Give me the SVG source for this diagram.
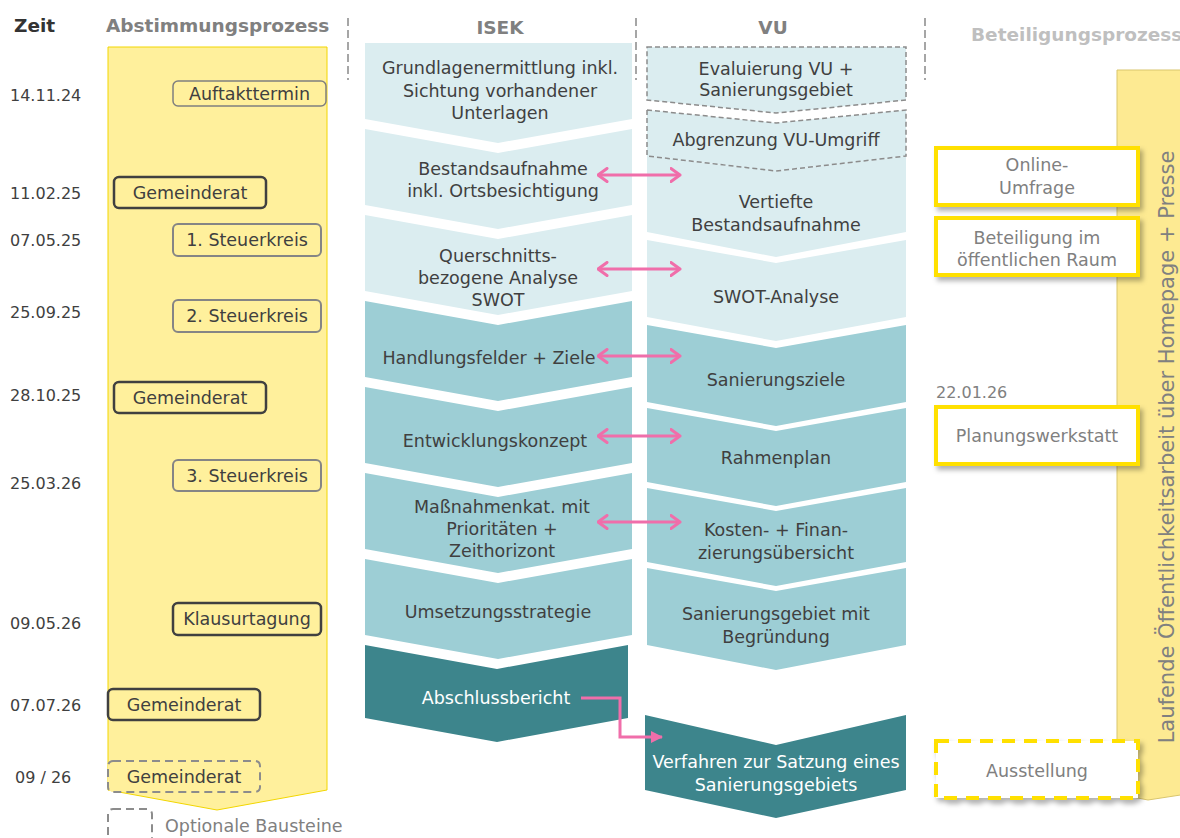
<svg xmlns="http://www.w3.org/2000/svg" width="1180" height="838" viewBox="0 0 1180 838">
  <defs>
    <style>
      text { font-family: "DejaVu Sans", "Liberation Sans", sans-serif; }
      .hdr { font-weight: bold; font-size: 18.5px; }
      .date { font-size: 16px; fill: #404040; }
      .lbl { font-size: 17.5px; fill: #404040; text-anchor: middle; }
      .lblw { font-size: 17.5px; fill: #ffffff; text-anchor: middle; }
      .grey { font-size: 17.5px; fill: #808080; text-anchor: middle; }
      .sep { stroke: #a6a6a6; stroke-width: 2; stroke-dasharray: 8 4; }
      .light { fill: #dbedf0; }
      .mid { fill: #9dced5; }
      .dark { fill: #3d858c; }
      .opt { fill: #dbedf0; stroke: #8c8c8c; stroke-width: 1.5; stroke-dasharray: 5 3; }
      .mtg { fill: #fff09c; rx: 5px; }
      .sk { stroke: #858585; stroke-width: 2; }
      .gr { stroke: #404040; stroke-width: 2.5; }
      .dsh { stroke: #8c8c8c; stroke-width: 2; stroke-dasharray: 8 5; }
      .part { fill: #ffffff; stroke: #ffe000; stroke-width: 4; filter: url(#shadow); }
      .link { fill: none; stroke: #f06eaa; stroke-width: 3; }
    </style>
    <filter id="shadow" x="-10%" y="-20%" width="125%" height="150%">
      <feDropShadow dx="3" dy="4" stdDeviation="2.5" flood-color="#000000" flood-opacity="0.3"/>
    </filter>
    <marker id="open" viewBox="0 0 12 16" refX="10.5" refY="8" markerWidth="12" markerHeight="16" markerUnits="userSpaceOnUse" orient="auto-start-reverse">
      <path d="M1.5,1.5 L10.5,8 L1.5,14.5" fill="none" stroke="#f06eaa" stroke-width="3" stroke-linecap="round" stroke-linejoin="round"/>
    </marker>
    <marker id="solid" viewBox="0 0 12 12" refX="11" refY="6" markerWidth="12" markerHeight="12" markerUnits="userSpaceOnUse" orient="auto">
      <path d="M0,0 L12,6 L0,12 Z" fill="#f06eaa"/>
    </marker>
  </defs>

  <rect width="1180" height="838" fill="#ffffff"/>

  <!-- column headers -->
  <g id="headers">
    <text class="hdr" x="14" y="32" fill="#333333">Zeit</text>
    <text class="hdr" x="106" y="32" fill="#808080">Abstimmungsprozess</text>
    <text class="hdr" x="500" y="34" fill="#808080" text-anchor="middle">ISEK</text>
    <text class="hdr" x="773" y="34" fill="#808080" text-anchor="middle">VU</text>
    <text class="hdr" x="971" y="41" fill="#bfbfbf">Beteiligungsprozess</text>
    <line class="sep" x1="348" y1="18" x2="348" y2="80"/>
    <line class="sep" x1="636" y1="18" x2="636" y2="80"/>
    <line class="sep" x1="925" y1="18" x2="925" y2="80"/>
  </g>

  <!-- coordination lane -->
  <g id="abstimmung">
    <path d="M108,47 H327 V790 L217,810 L108,790 Z" fill="#fff09c" stroke="#f2d600" stroke-width="1"/>
  </g>

  <!-- dates -->
  <g id="dates">
    <text class="date" x="10" y="101">14.11.24</text>
    <text class="date" x="10" y="199">11.02.25</text>
    <text class="date" x="10" y="246">07.05.25</text>
    <text class="date" x="10" y="318">25.09.25</text>
    <text class="date" x="10" y="401">28.10.25</text>
    <text class="date" x="10" y="489">25.03.26</text>
    <text class="date" x="10" y="629">09.05.26</text>
    <text class="date" x="10" y="711">07.07.26</text>
    <text class="date" x="15" y="783">09 / 26</text>
  </g>

  <!-- meetings -->
  <g id="m-auftakt">
    <rect class="mtg" x="173" y="81" width="153" height="25" stroke="#7f7f7f" stroke-width="1.5"/>
    <text class="lbl" x="249.5" y="100">Auftakttermin</text>
  </g>
  <g id="m-gr1">
    <rect class="mtg gr" x="114" y="177" width="152" height="31"/>
    <text class="lbl" x="190" y="199">Gemeinderat</text>
  </g>
  <g id="m-sk1">
    <rect class="mtg sk" x="173" y="224" width="148" height="32"/>
    <text class="lbl" x="247" y="246">1. Steuerkreis</text>
  </g>
  <g id="m-sk2">
    <rect class="mtg sk" x="173" y="300" width="148" height="32"/>
    <text class="lbl" x="247" y="322">2. Steuerkreis</text>
  </g>
  <g id="m-gr2">
    <rect class="mtg gr" x="114" y="382" width="152" height="31"/>
    <text class="lbl" x="190" y="404">Gemeinderat</text>
  </g>
  <g id="m-sk3">
    <rect class="mtg sk" x="173" y="460" width="148" height="31"/>
    <text class="lbl" x="247" y="482">3. Steuerkreis</text>
  </g>
  <g id="m-klausur">
    <rect class="mtg gr" x="173" y="603" width="148" height="32"/>
    <text class="lbl" x="247" y="625">Klausurtagung</text>
  </g>
  <g id="m-gr3">
    <rect class="mtg gr" x="108" y="689" width="152" height="31"/>
    <text class="lbl" x="184" y="711">Gemeinderat</text>
  </g>
  <g id="m-gr4">
    <rect class="mtg dsh" x="108" y="761" width="152" height="31"/>
    <text class="lbl" x="184" y="783">Gemeinderat</text>
  </g>
  <g id="legend">
    <rect x="108" y="809" width="44" height="40" rx="5" fill="none" class="dsh"/>
    <text x="165" y="832" font-size="17.5" fill="#808080">Optionale Bausteine</text>
  </g>

  <!-- ISEK steps -->
  <g id="isek-1">
    <path class="light" d="M365,43 H632 V119 L498,143 L365,119 Z"/>
    <text class="lbl" x="500" y="74">Grundlagenermittlung inkl.</text>
    <text class="lbl" x="500" y="97">Sichtung vorhandener</text>
    <text class="lbl" x="500" y="119">Unterlagen</text>
  </g>
  <g id="isek-2">
    <path class="light" d="M365,129 L498,153 L632,129 V205 L498,229 L365,205 Z"/>
    <text class="lbl" x="503" y="175">Bestandsaufnahme</text>
    <text class="lbl" x="503" y="197">inkl. Ortsbesichtigung</text>
  </g>
  <g id="isek-3">
    <path class="light" d="M365,215 L498,239 L632,215 V291 L498,315 L365,291 Z"/>
    <text class="lbl" x="498" y="262">Querschnitts-</text>
    <text class="lbl" x="498" y="284">bezogene Analyse</text>
    <text class="lbl" x="498" y="306">SWOT</text>
  </g>
  <g id="isek-4">
    <path class="mid" d="M365,301 L498,325 L632,301 V377 L498,401 L365,377 Z"/>
    <text class="lbl" x="489" y="364">Handlungsfelder + Ziele</text>
  </g>
  <g id="isek-5">
    <path class="mid" d="M365,387 L498,411 L632,387 V463 L498,487 L365,463 Z"/>
    <text class="lbl" x="495" y="447">Entwicklungskonzept</text>
  </g>
  <g id="isek-6">
    <path class="mid" d="M365,473 L498,497 L632,473 V549 L498,573 L365,549 Z"/>
    <text class="lbl" x="502" y="513">Maßnahmenkat. mit</text>
    <text class="lbl" x="502" y="535">Prioritäten +</text>
    <text class="lbl" x="502" y="557">Zeithorizont</text>
  </g>
  <g id="isek-7">
    <path class="mid" d="M365,559 L498,583 L632,559 V635 L498,659 L365,635 Z"/>
    <text class="lbl" x="498" y="618">Umsetzungsstrategie</text>
  </g>
  <g id="isek-8">
    <path class="dark" d="M365,645 L497,669 L628,645 V718 L497,742 L365,718 Z"/>
    <text class="lblw" x="496" y="704">Abschlussbericht</text>
  </g>

  <!-- VU steps -->
  <g id="vu-1">
    <path class="opt" d="M647,47 H906 V100 L776,113 L647,100 Z"/>
    <text class="lbl" x="776" y="75">Evaluierung VU +</text>
    <text class="lbl" x="776" y="96">Sanierungsgebiet</text>
  </g>
  <g id="vu-3">
    <path class="light" d="M647,156 L776,171 L906,156 V232 L776,257 L647,232 Z"/>
    <text class="lbl" x="776" y="208">Vertiefte</text>
    <text class="lbl" x="776" y="231">Bestandsaufnahme</text>
  </g>
  <g id="vu-2">
    <path class="opt" d="M647,110 L776,123 L906,110 V156 L776,171 L647,156 Z"/>
    <text class="lbl" x="776" y="146">Abgrenzung VU-Umgriff</text>
  </g>
  <g id="vu-4">
    <path class="light" d="M647,240 L776,263 L906,240 V317 L776,341 L647,317 Z"/>
    <text class="lbl" x="776" y="303">SWOT-Analyse</text>
  </g>
  <g id="vu-5">
    <path class="mid" d="M647,325 L776,348 L906,325 V402 L776,426 L647,402 Z"/>
    <text class="lbl" x="776" y="386">Sanierungsziele</text>
  </g>
  <g id="vu-6">
    <path class="mid" d="M647,408 L776,431 L906,408 V482 L776,506 L647,482 Z"/>
    <text class="lbl" x="776" y="464">Rahmenplan</text>
  </g>
  <g id="vu-7">
    <path class="mid" d="M647,488 L776,511 L906,488 V562 L776,586 L647,562 Z"/>
    <text class="lbl" x="776" y="536">Kosten- + Finan-</text>
    <text class="lbl" x="776" y="559">zierungsübersicht</text>
  </g>
  <g id="vu-8">
    <path class="mid" d="M647,568 L776,591 L906,568 V645 L776,670 L647,645 Z"/>
    <text class="lbl" x="776" y="620">Sanierungsgebiet mit</text>
    <text class="lbl" x="776" y="643">Begründung</text>
  </g>
  <g id="vu-9">
    <path class="dark" d="M645,715 L776,745 L906,715 V790 L776,818 L645,790 Z"/>
    <text class="lblw" x="776" y="768">Verfahren zur Satzung eines</text>
    <text class="lblw" x="776" y="791">Sanierungsgebiets</text>
  </g>

  <!-- participation lane -->
  <g id="oeffentlichkeit">
    <path d="M1117,70 H1200 V792 L1148,800 L1117,794 Z" fill="#fdea92" stroke="#d9c56c" stroke-width="1"/>
    <text transform="translate(1174,447) rotate(-90)" font-size="21" fill="#808080" text-anchor="middle">Laufende Öffentlichkeitsarbeit über Homepage + Presse</text>
  </g>
  <g id="p-umfrage">
    <rect class="part" x="936" y="148" width="202" height="57"/>
    <text class="grey" x="1037" y="171">Online-</text>
    <text class="grey" x="1037" y="194">Umfrage</text>
  </g>
  <g id="p-raum">
    <rect class="part" x="936" y="218" width="202" height="57"/>
    <text class="grey" x="1037" y="244">Beteiligung im</text>
    <text class="grey" x="1037" y="266">öffentlichen Raum</text>
  </g>
  <g id="p-werkstatt">
    <text x="936" y="398" font-size="16" fill="#808080">22.01.26</text>
    <rect class="part" x="936" y="407" width="202" height="57"/>
    <text class="grey" x="1037" y="442">Planungswerkstatt</text>
  </g>
  <g id="p-ausstellung">
    <rect class="part" x="936" y="741" width="202" height="57" stroke-dasharray="13 9"/>
    <text class="grey" x="1037" y="777">Ausstellung</text>
  </g>

  <!-- connectors -->
  <g id="connectors">
    <line class="link" x1="598" y1="175" x2="680" y2="175" marker-start="url(#open)" marker-end="url(#open)"/>
    <line class="link" x1="598" y1="269" x2="680" y2="269" marker-start="url(#open)" marker-end="url(#open)"/>
    <line class="link" x1="598" y1="356" x2="680" y2="356" marker-start="url(#open)" marker-end="url(#open)"/>
    <line class="link" x1="598" y1="436" x2="680" y2="436" marker-start="url(#open)" marker-end="url(#open)"/>
    <line class="link" x1="598" y1="522" x2="680" y2="522" marker-start="url(#open)" marker-end="url(#open)"/>
    <path class="link" d="M581,698 H620 V737 H662" stroke-width="2.5" marker-end="url(#solid)"/>
  </g>
</svg>
